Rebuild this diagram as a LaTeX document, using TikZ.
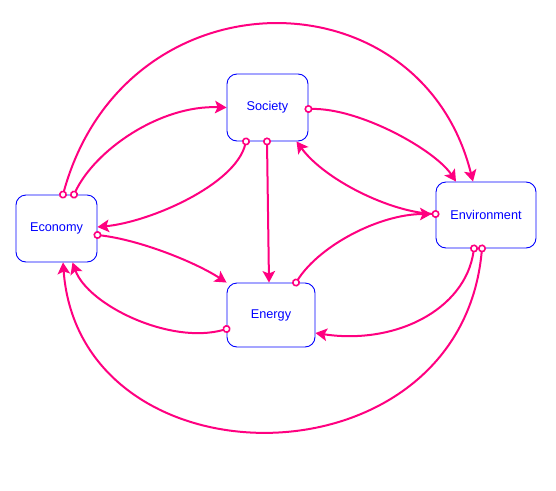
\documentclass[tikz,border=0pt]{standalone}
\usepackage{fontspec}
\setmainfont{Liberation Sans}
\usetikzlibrary{arrows.meta}
\definecolor{linkpink}{RGB}{255,0,128}
\definecolor{boxblue}{RGB}{0,0,255}
\begin{document}
\begin{tikzpicture}[x=1pt,y=-1pt,
  box/.style={draw=boxblue,line width=0.9pt,rounded corners=10pt,text=boxblue,inner sep=0pt,font=\fontsize{12.7}{15}\selectfont},
  link/.style={draw=linkpink,line width=2pt,shorten <=-4pt,
    {Circle[length=8pt,line width=1.6pt,fill=white]}-{Stealth[length=11.5pt,width=12.5pt,inset=2.5pt]}}]
  \useasboundingbox (0,0) rectangle (556,490);
  \node[box,minimum width=81pt,minimum height=67pt] (eco) at (56.5,228.5) {Economy};
  \node[box,minimum width=81pt,minimum height=67pt] (soc) at (267.5,107.5) {Society};
  \node[box,minimum width=100pt,minimum height=66pt] (env) at (486,215) {Environment};
  \node[box,minimum width=88pt,minimum height=64pt] (ene) at (271,315) {Energy};
  \draw[link] ([shift={(6.5,0)}]eco.north) .. controls (125,-30) and (420,-30) .. ([shift={(-13,0)}]env.north);
  \draw[link] ([shift={(17.5,0)}]eco.north) .. controls (95,150) and (160,105) .. (soc.west);
  \draw[link] ([shift={(-21.5,0)}]soc.south) .. controls (235,185) and (150,222) .. ([shift={(0,-1.5)}]eco.east);
  \draw[link] ([shift={(-0.5,0)}]soc.south) -- ([shift={(-2,0)}]ene.north);
  \draw[link] ([shift={(0,1.5)}]soc.east) .. controls (360,108) and (435,150) .. ([shift={(-30,0)}]env.north);
  \draw[link] ([shift={(0,-1)}]env.west) .. controls (390,212) and (325,180) .. ([shift={(29,0)}]soc.south);
  \draw[link] ([shift={(0,6.5)}]eco.east) .. controls (140,240) and (195,262) .. (ene.north west);
  \draw[link] ([shift={(0,14)}]ene.west) .. controls (170,345) and (88,305) .. ([shift={(16,0)}]eco.south);
  \draw[link] ([shift={(25,0)}]ene.north) .. controls (320,245) and (380,214) .. ([shift={(-4,-1)}]env.west);
  \draw[link] ([shift={(-12,0)}]env.south) .. controls (465,310) and (395,345) .. ([shift={(0,18)}]ene.east);
  \draw[link] ([shift={(-4,0)}]env.south) .. controls (460,490) and (80,490) .. ([shift={(6.5,0)}]eco.south);
\end{tikzpicture}
\end{document}
